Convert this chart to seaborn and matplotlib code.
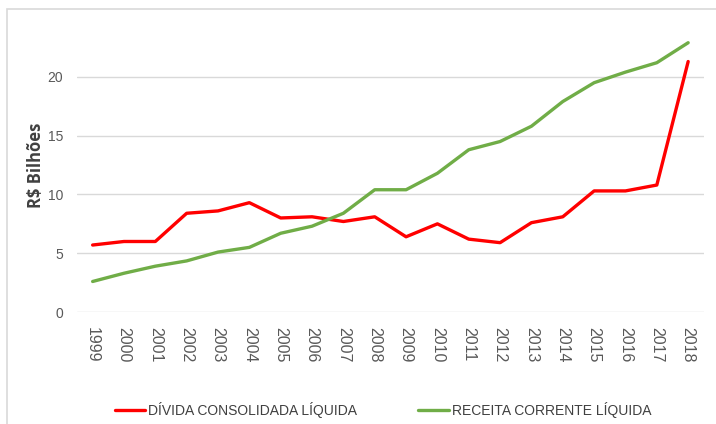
import pandas as pd
import matplotlib
matplotlib.use('Agg')
import matplotlib.pyplot as plt
import seaborn as sns
from matplotlib.patches import Rectangle

# Dados (R$ bilhões)
anos = list(range(1999, 2019))
divida = [5.7, 6.0, 6.0, 8.4, 8.6, 9.3, 8.0, 8.1, 7.7, 8.1,
          6.4, 7.5, 6.2, 5.9, 7.6, 8.1, 10.3, 10.3, 10.8, 21.3]
receita = [2.6, 3.3, 3.9, 4.35, 5.1, 5.5, 6.7, 7.3, 8.4, 10.4,
           10.4, 11.8, 13.8, 14.5, 15.8, 17.9, 19.5, 20.4, 21.2, 22.9]
series = ['DÍVIDA CONSOLIDADA LÍQUIDA', 'RECEITA CORRENTE LÍQUIDA']

df = pd.DataFrame({
    'ano': anos * 2,
    'valor': divida + receita,
    'serie': [series[0]] * len(anos) + [series[1]] * len(anos),
})

sns.set_style("white")
plt.rcParams['font.family'] = ['Liberation Sans', 'DejaVu Sans']

fig = plt.figure(figsize=(7.16, 4.24), dpi=100)
ax = fig.add_axes([0.1075, 0.264, 0.8755, 0.6935])

sns.lineplot(data=df, x='ano', y='valor', hue='serie', ax=ax,
             palette={series[0]: '#FF0000', series[1]: '#70AD47'},
             linewidth=2.4, legend=False)

ax.set_xlim(1998.5, 2018.5)
ax.set_ylim(0, 25)
ax.set_yticks([0, 5, 10, 15, 20])
ax.set_xticks(anos)
ax.set_xticklabels([str(a) for a in anos], rotation=-90, fontsize=11.5, color='#595959')
ax.tick_params(axis='y', labelsize=10, labelcolor='#595959', length=0, pad=10)
ax.tick_params(axis='x', length=0, pad=11)
for v in [0, 5, 10, 15, 20]:
    ax.axhline(v, color='#D9D9D9', linewidth=1, zorder=0)
for s in ax.spines.values():
    s.set_visible(False)
ax.set_xlabel('')
ax.set_ylabel('R$ Bilhões', fontsize=12, fontweight='bold', color='#404040', labelpad=2,
              family=['Open Sans', 'DejaVu Sans'])

# legenda
handles = [plt.Line2D([], [], color='#FF0000', linewidth=2.4),
           plt.Line2D([], [], color='#70AD47', linewidth=2.4)]
fig.legend(handles, series, loc='center', bbox_to_anchor=(0.535, 0.033), ncol=2,
           frameon=False, fontsize=10, handlelength=2.2, handletextpad=0.2,
           columnspacing=4.4, labelcolor='#404040')

# moldura do gráfico
fig.patches.append(Rectangle((7 / 716, -0.01), 1.0, 1 - 9 / 424 + 0.01, transform=fig.transFigure,
                             fill=False, edgecolor='#D9D9D9', linewidth=1.2))

fig.savefig('out.png', dpi=100)
